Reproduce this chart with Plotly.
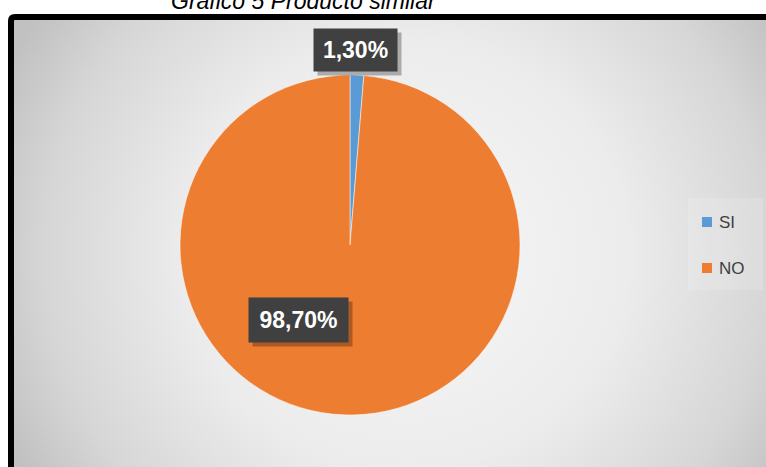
import base64
import plotly.graph_objects as go

# Data
labels = ["SI", "NO"]
values = [1.3, 98.7]
colors = ["#5B9BD5", "#ED7D31"]
title_text = "Gráfico 5 Producto similar"

W, H = 766, 467


def px_x(x):
    return x / W


def px_y(y):
    return 1 - y / H


def pct(v):
    return f"{v:.2f}".replace(".", ",") + "%"


# Radial gray background as an SVG image
svg = f"""<svg xmlns='http://www.w3.org/2000/svg' width='{W}' height='{H}'>
<defs><radialGradient id='g' gradientUnits='userSpaceOnUse' cx='400' cy='245' r='450'>
<stop offset='0' stop-color='#f7f7f7'/>
<stop offset='0.5' stop-color='#ececec'/>
<stop offset='0.82' stop-color='#d6d6d6'/>
<stop offset='1' stop-color='#c1c1c1'/>
</radialGradient></defs>
<rect x='0' y='0' width='{W}' height='{H}' fill='url(#g)'/>
</svg>"""
bg_src = "data:image/svg+xml;base64," + base64.b64encode(svg.encode()).decode()

fig = go.Figure()
fig.add_trace(go.Pie(
    labels=labels,
    values=values,
    sort=False,
    direction="clockwise",
    rotation=0,
    textinfo="none",
    hoverinfo="label+percent",
    marker=dict(colors=colors, line=dict(color="white", width=0.5)),
    domain=dict(x=[px_x(180), px_x(520)], y=[px_y(415), px_y(75)]),
    showlegend=False,
))

shapes = []
annotations = []

# Chart frame with rounded top-left corner
r = 4
path = (f"M {px_x(11)},{px_y(H + 20)} L {px_x(11)},{px_y(17 + r)} "
        f"Q {px_x(11)},{px_y(17)} {px_x(11 + r)},{px_y(17)} L {px_x(W + 20)},{px_y(17)}")
shapes.append(dict(type="path", xref="paper", yref="paper", path=path,
                   line=dict(color="black", width=6), layer="above"))

# Legend panel
shapes.append(dict(type="rect", xref="paper", yref="paper",
                   x0=px_x(688), x1=px_x(763), y0=px_y(290), y1=px_y(198),
                   fillcolor="rgba(255,255,255,0.15)", line=dict(width=0), layer="below"))

legend_y = [222, 268]
for lab, col, ly in zip(labels, colors, legend_y):
    shapes.append(dict(type="rect", xref="paper", yref="paper",
                       x0=px_x(702), x1=px_x(712), y0=px_y(ly + 5), y1=px_y(ly - 5),
                       fillcolor=col, line=dict(width=0)))
    annotations.append(dict(xref="paper", yref="paper", x=px_x(717), y=px_y(ly),
                            xanchor="left", yanchor="middle", showarrow=False,
                            text=lab, font=dict(family="Liberation Sans", size=17, color="#404040")))

# Data labels in dark boxes with a soft drop shadow
label_boxes = [
    (355.5, 50, 79, 38),
    (298.5, 320, 95, 40),
]
for v, (cx, cy, bw, bh) in zip(values, label_boxes):
    annotations.append(dict(xref="paper", yref="paper", x=px_x(cx + 4), y=px_y(cy + 4),
                            xanchor="center", yanchor="middle", showarrow=False,
                            text="", width=bw, height=bh, borderpad=2,
                            bgcolor="rgba(0,0,0,0.28)"))
    annotations.append(dict(xref="paper", yref="paper", x=px_x(cx), y=px_y(cy),
                            xanchor="center", yanchor="middle", showarrow=False,
                            text=f"<b>{pct(v)}</b>", width=bw, height=bh, borderpad=2,
                            bgcolor="#404040",
                            font=dict(family="Liberation Sans", size=23, color="white")))

# Title, partly above the page top
annotations.append(dict(xref="paper", yref="paper", x=px_x(304), y=px_y(16),
                        xanchor="center", yanchor="bottom", showarrow=False,
                        text=f"<i>{title_text}</i>",
                        font=dict(family="Liberation Sans", size=23, color="black")))

fig.update_layout(
    width=W, height=H,
    margin=dict(l=0, r=0, t=0, b=0),
    paper_bgcolor="white",
    plot_bgcolor="white",
    images=[dict(source=bg_src, xref="paper", yref="paper", x=px_x(14), y=px_y(20),
                 sizex=1 - px_x(14), sizey=px_y(20), xanchor="left", yanchor="top",
                 sizing="stretch", layer="below")],
    shapes=shapes,
    annotations=annotations,
)

fig.write_html("out.html")
